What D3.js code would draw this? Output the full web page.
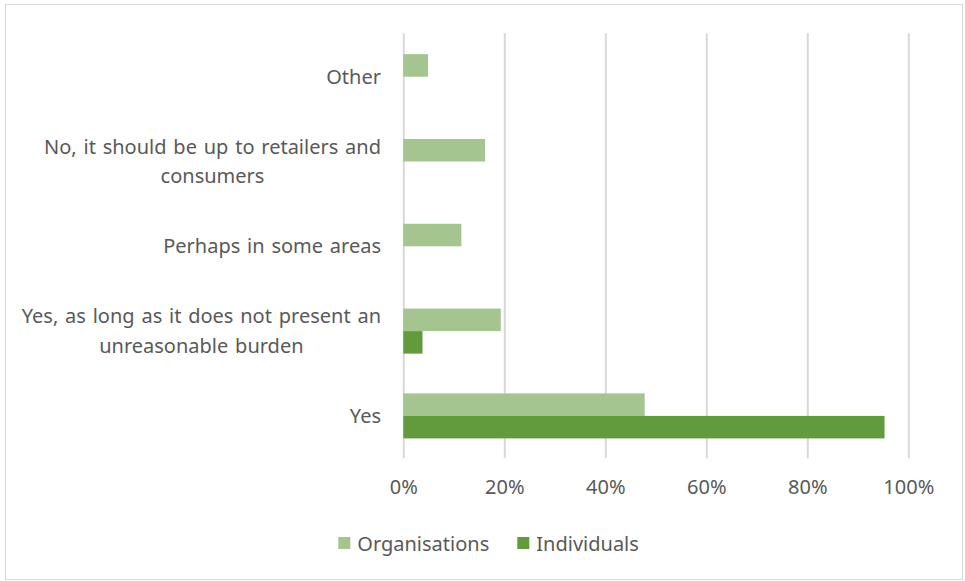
<!DOCTYPE html>
<html>
<head>
<meta charset="utf-8">
<script src="https://cdn.jsdelivr.net/npm/d3@7"></script>
<style>
  html, body { margin: 0; padding: 0; background: #fff; }
  svg { display: block; font-family: "Noto Sans", "Open Sans", sans-serif; }
</style>
</head>
<body>
<svg id="chart" width="965" height="581"></svg>
<script>
// Response categories, top to bottom
const categories = [
  ["Other"],
  ["No, it should be up to retailers and", "consumers"],
  ["Perhaps in some areas"],
  ["Yes, as long as it does not present an", "unreasonable burden"],
  ["Yes"]
];
const seriesNames = ["Organisations", "Individuals"];
const organisations = [4.9, 16.2, 11.5, 19.3, 47.8];
const individuals = [0, 0, 0, 3.8, 95.3];
const tickValues = [0, 20, 40, 60, 80, 100];

const colors = { Organisations: "#a4c490", Individuals: "#629a3e" };
const textColor = "#595959";
const gridColor = "#d9d9d9";

const svg = d3.select("#chart");

// chart frame
svg.append("rect")
  .attr("x", 5.5).attr("y", 4.5)
  .attr("width", 957).attr("height", 575)
  .attr("fill", "#fff").attr("stroke", gridColor).attr("stroke-width", 1);

const keys = categories.map((c, i) => "c" + i);

const x = d3.scaleLinear().domain([0, 100]).range([403.3, 908.3]);
const y = d3.scaleBand().domain(keys).range([34.3, 458.3])
  .paddingInner(0.469).paddingOuter(0.2345);
const ySub = d3.scaleBand().domain(seriesNames).range([0, y.bandwidth()]);

// vertical gridlines + percentage labels
const xAxis = d3.axisBottom(x)
  .tickValues(tickValues)
  .tickFormat(d => d + "%")
  .tickSize(-(458.3 - 33.3))
  .tickPadding(22);

const gx = svg.append("g")
  .attr("transform", "translate(0,458.3)")
  .call(xAxis);
gx.select(".domain").remove();
gx.selectAll(".tick line").attr("stroke", gridColor).attr("stroke-width", 2);
gx.selectAll(".tick text")
  .attr("fill", textColor)
  .attr("font-size", 20)
  .attr("font-family", "Noto Sans, sans-serif");

// bars
const rows = categories.map((c, i) => ({
  key: keys[i],
  values: [
    { series: "Organisations", value: organisations[i] },
    { series: "Individuals", value: individuals[i] }
  ]
}));

const groups = svg.append("g").selectAll("g")
  .data(rows).join("g")
  .attr("transform", d => `translate(0,${y(d.key)})`);

groups.selectAll("rect")
  .data(d => d.values.filter(v => v.value > 0))
  .join("rect")
  .attr("x", x(0))
  .attr("y", d => ySub(d.series))
  .attr("width", d => x(d.value) - x(0))
  .attr("height", ySub.bandwidth())
  .attr("fill", d => colors[d.series]);

// category labels (right aligned block, each line centred within it)
const lineGap = 29.5;
const labels = svg.append("g")
  .attr("fill", textColor)
  .attr("font-size", 20)
  .attr("word-spacing", "1.6px")
  .attr("text-anchor", "middle");

categories.forEach((lines, i) => {
  const cy = y(keys[i]) + y.bandwidth() / 2 - 1;
  const t = labels.append("text")
    .attr("dominant-baseline", "central");
  const tmp = labels.append("text").attr("visibility", "hidden");
  let maxW = 0;
  lines.forEach(l => {
    tmp.text(l);
    maxW = Math.max(maxW, tmp.node().getBBox().width);
  });
  tmp.remove();
  const right = 381;
  const cx = right - maxW / 2;
  lines.forEach((l, j) => {
    t.append("tspan")
      .attr("x", cx)
      .attr("y", cy + (j - (lines.length - 1) / 2) * lineGap)
      .text(l);
  });
});

// legend
const legend = svg.append("g").attr("font-size", 20).attr("fill", textColor);
const legendItems = [
  { name: "Organisations", x: 338.3 },
  { name: "Individuals", x: 517.3 }
];
legendItems.forEach(it => {
  legend.append("rect")
    .attr("x", it.x).attr("y", 537)
    .attr("width", 12).attr("height", 12)
    .attr("fill", colors[it.name]);
  legend.append("text")
    .attr("x", it.x + 19).attr("y", 543)
    .attr("dominant-baseline", "central")
    .text(it.name);
});
</script>
</body>
</html>
